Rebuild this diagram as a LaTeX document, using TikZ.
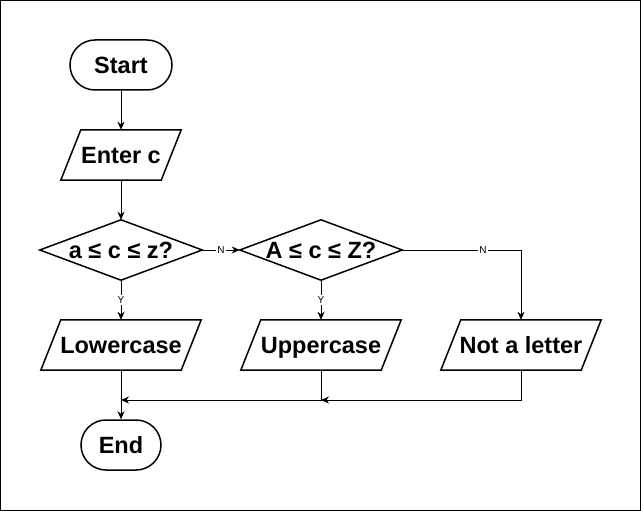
\documentclass[tikz,border=0pt]{standalone}
\usepackage{fontspec}
\setmainfont{Liberation Sans}
\usetikzlibrary{arrows.meta}
\tikzset{
  every picture/.style={x=1pt,y=-1pt},
  holder/.style={draw=none,inner sep=0pt,text height=16.5pt,text depth=0pt,font=\fontsize{23.5}{27}\selectfont\bfseries},
  terminal/.style={holder,draw=black,line width=1.5pt,rounded corners=25pt,minimum height=50pt},
  outline/.style={draw=black,line width=1.5pt,line join=miter},
  conn/.style={draw=black,line width=1pt,-{Stealth[length=8pt,width=7pt,inset=2.5pt]}},
  lab/.style={fill=white,inner sep=1.5pt,font=\fontsize{10}{12}\selectfont}
}
\begin{document}
\begin{tikzpicture}
\useasboundingbox (0,0) rectangle (641,511);
\draw[line width=1pt] (0.5,0.5) rectangle (640.5,510.5);

\node[terminal,minimum width=102pt] (start) at (121,65) {Start};
\node[holder,minimum width=120pt,minimum height=50pt] (enter) at (121,155) {Enter c};
\node[holder,minimum width=162pt,minimum height=60pt] (d1) at (121,250) {a ≤ c ≤ z?};
\node[holder,minimum width=162pt,minimum height=60pt] (d2) at (321,250) {A ≤ c ≤ Z?};
\node[holder,minimum width=160pt,minimum height=50pt] (lc) at (121,345) {Lowercase};
\node[holder,minimum width=160pt,minimum height=50pt] (uc) at (321,345) {Uppercase};
\node[holder,minimum width=160pt,minimum height=50pt] (nl) at (521,345) {Not a letter};
\node[terminal,minimum width=80pt] (end) at (121,445) {End};

% shape outlines
\foreach \n in {enter,lc,uc,nl}{
  \draw[outline] ([xshift=20pt]\n.north west) -- (\n.north east) -- ([xshift=-20pt]\n.south east) -- (\n.south west) -- cycle;
}
\foreach \n in {d1,d2}{
  \draw[outline] (\n.north) -- (\n.east) -- (\n.south) -- (\n.west) -- cycle;
}

% connectors
\draw[conn] (start.south) -- (enter.north);
\draw[conn] (enter.south) -- (d1.north);
\draw[conn] (d1.east) -- node[lab] {N} (d2.west);
\draw[conn] (d1.south) -- node[lab,pos=0.5] {Y} (lc.north);
\draw[conn] (d2.south) -- node[lab,pos=0.5] {Y} (uc.north);
\draw[conn] (d2.east) -- node[lab,pos=0.68] {N} (d2.east -| nl.north) -- (nl.north);
\draw[conn] (lc.south) -- (end.north);
\coordinate (m1) at (lc.south |- 0,400);
\coordinate (m2) at (uc.south |- 0,400);
\draw[conn] (uc.south) -- (m2) -- (m1);
\draw[conn] (nl.south) -- (nl.south |- m2) -- (m2);
\end{tikzpicture}
\end{document}
